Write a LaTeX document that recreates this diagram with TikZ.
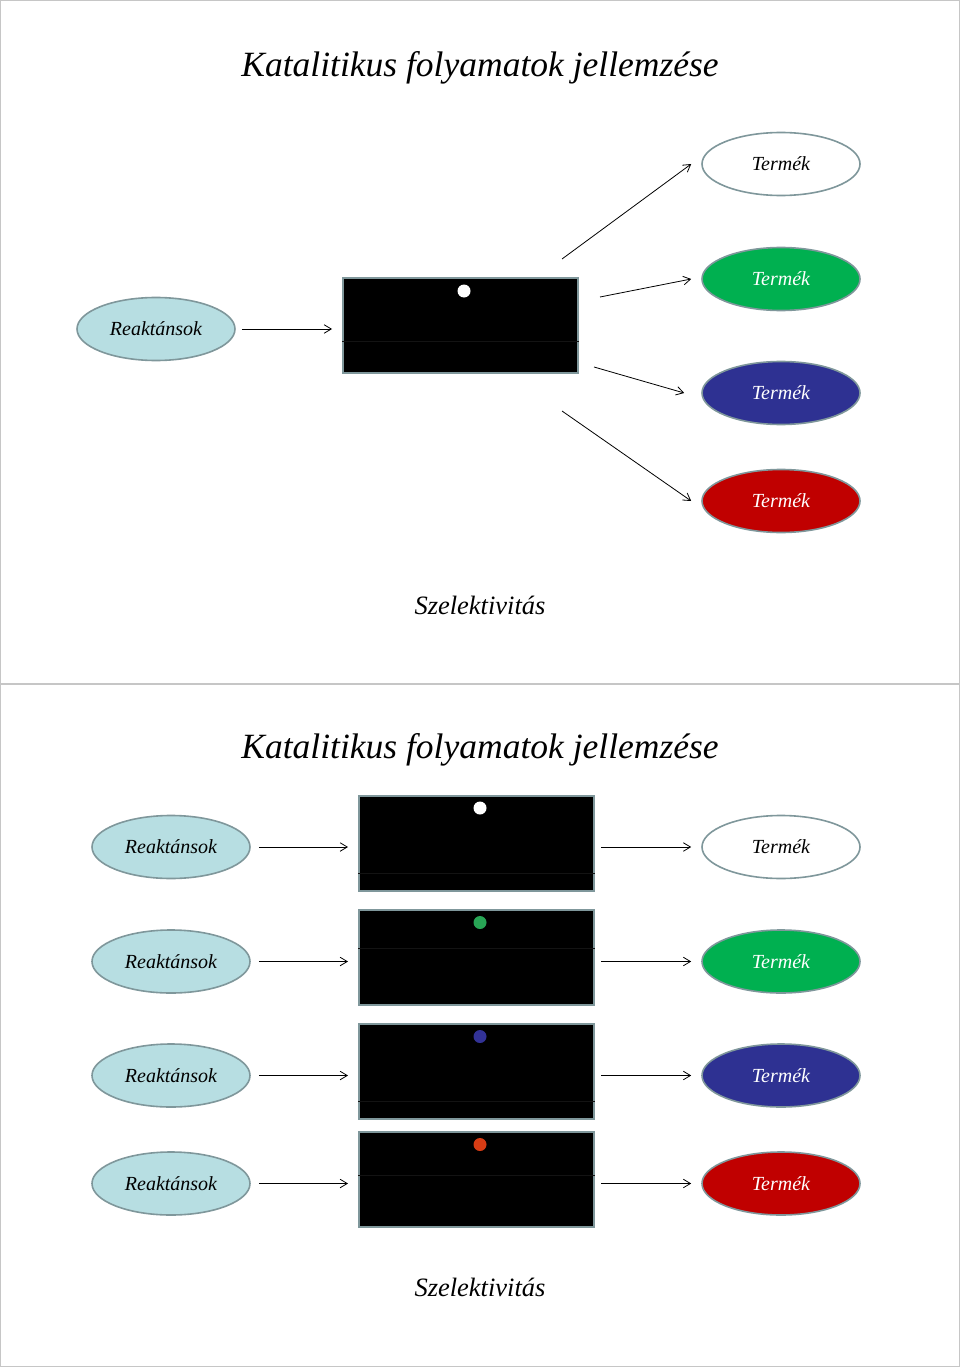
\documentclass[tikz,border=0pt]{standalone}
\usepackage{fontspec}
\setmainfont{Liberation Serif}
\usepackage{xcolor}
\usetikzlibrary{positioning,arrows.meta,shapes.geometric}

\definecolor{edgegray}{RGB}{127,151,155}
\definecolor{reactblue}{RGB}{183,222,226}
\definecolor{prodgreen}{RGB}{0,176,80}
\definecolor{prodblue}{RGB}{46,49,146}
\definecolor{prodred}{RGB}{192,0,0}
\definecolor{dotgreen}{RGB}{40,165,85}
\definecolor{dotblue}{RGB}{50,50,150}
\definecolor{dotred}{RGB}{215,60,20}

\begin{document}
\begin{tikzpicture}[
    x=1pt, y=-1pt,
    oval/.style={draw=edgegray, ellipse, line width=1.6pt, minimum width=158pt, minimum height=63pt, inner sep=0pt, font=\fontsize{20}{22}\selectfont\itshape},
    react/.style={oval, fill=reactblue},
    prod/.style={oval, fill=#1, text=white},
    catbox/.style={draw=edgegray, line width=2pt, fill=black, minimum width=235pt, minimum height=95pt, inner sep=0pt},
    dot/.style={circle, fill=#1, minimum size=13pt, inner sep=0pt},
    title/.style={font=\fontsize{35.5}{38}\selectfont\itshape},
    caption/.style={font=\fontsize{26.5}{29}\selectfont\itshape},
    arrow/.style={-{Straight Barb[length=2.5mm,width=3mm]}, line width=0.8pt}
]
\useasboundingbox (0,0) rectangle (960,1367);
\draw[gray!45, line width=1pt] (0.5,0.5) rectangle (959.5,683);
\draw[gray!45, line width=1pt] (0.5,684.5) rectangle (959.5,1366.5);

% first slide
\node[title] (title1) at (480,68) {Katalitikus folyamatok jellemzése};
\node[react] (r0) at (156,329) {Reaktánsok};
\node[catbox] (c0) at (460.5,325.5) {};
\draw[gray!15!black, line width=1pt] ([yshift=-16pt]c0.west) -- ([yshift=-16pt]c0.east);
\node[dot=white] (d0) at (464,291) {};
\node[oval, fill=white] (t1) at (781,164) {Termék};
\node[prod=prodgreen] (t2) at (781,279) {Termék};
\node[prod=prodblue] (t3) at (781,393) {Termék};
\node[prod=prodred] (t4) at (781,501) {Termék};
\coordinate (s1) at (562,259);
\coordinate (s2) at (600,297);
\coordinate (s3) at (594,367);
\coordinate (s4) at (562,411);
\draw[arrow, shorten <=6pt, shorten >=10pt] (r0.east) -- (r0.east -| c0.west);
\draw[arrow] (s1) -- ([xshift=-10pt]t1.west);
\draw[arrow] (s2) -- ([xshift=-10pt]t2.west);
\draw[arrow] (s3) -- ([xshift=-17pt]t3.west);
\draw[arrow] (s4) -- ([xshift=-10pt]t4.west);
\node[caption] (sel1) at (480,605) {Szelektivitás};

% second slide
\node[title] (title2) at (480,750) {Katalitikus folyamatok jellemzése};
\foreach \i/\y/\line/\dcol/\pfill/\ptext in {1/843/30.5/white/white/black, 2/957.5/-9.5/dotgreen/prodgreen/white, 3/1071.5/29.5/dotblue/prodblue/white, 4/1179.5/-4.5/dotred/prodred/white} {
  \node[react] (ra\i) at (171,\y+4) {Reaktánsok};
  \node[catbox] (ca\i) at (476.5,\y) {};
  \draw[gray!15!black, line width=1pt] ([yshift=-\line pt]ca\i.west) -- ([yshift=-\line pt]ca\i.east);
  \node[dot=\dcol] (da\i) at (480,\y-35) {};
  \node[oval, fill=\pfill, text=\ptext] (ta\i) at (781,\y+4) {Termék};
  \draw[arrow, shorten <=8pt, shorten >=10pt] (ra\i.east) -- (ra\i.east -| ca\i.west);
  \draw[arrow, shorten <=6pt, shorten >=10pt] (ta\i.west -| ca\i.east) -- (ta\i.west);
}
\node[caption] (sel2) at (480,1287) {Szelektivitás};
\end{tikzpicture}
\end{document}
